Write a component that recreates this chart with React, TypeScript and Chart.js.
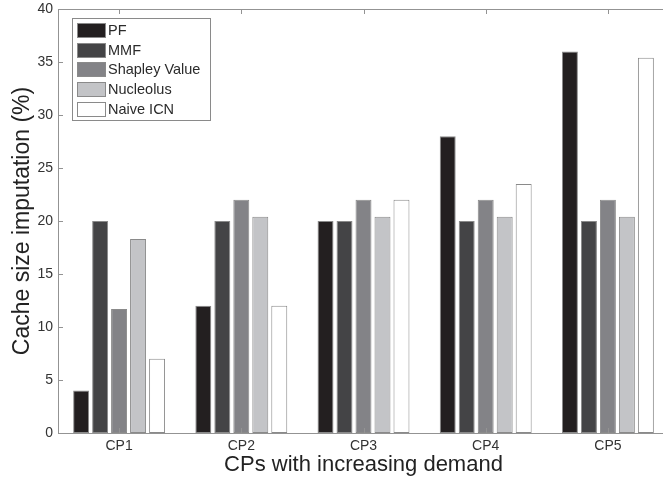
import React, { useEffect, useRef } from "react";
import { Chart, registerables } from "chart.js";

Chart.register(...registerables);

const categories = ["CP1", "CP2", "CP3", "CP4", "CP5"];
const seriesNames = ["PF", "MMF", "Shapley Value", "Nucleolus", "Naive ICN"];
const pf = [4, 12, 20, 28, 36];
const mmf = [20, 20, 20, 20, 20];
const shapley = [11.7, 22, 22, 22, 22];
const nucleolus = [18.3, 20.4, 20.4, 20.4, 20.4];
const naive = [7, 12, 22, 23.5, 35.4];
const yTicks = [0, 5, 10, 15, 20, 25, 30, 35, 40];

const fills = ["#231f20", "#444446", "#838387", "#c3c4c7", "#ffffff"];
const FONT = "'Liberation Sans', Arial, Helvetica, sans-serif";
const AXIS = "#939393";

const framePlugin = {
  id: "frame",
  afterDatasetsDraw(chart: any) {
    const { ctx, chartArea: a, scales } = chart;
    const tl = 5;
    ctx.save();
    ctx.strokeStyle = AXIS;
    ctx.lineWidth = 1;
    ctx.beginPath();
    ctx.rect(Math.round(a.left) + 0.5, Math.round(a.top) + 0.5, Math.round(a.right - a.left), Math.round(a.bottom - a.top));
    for (const v of yTicks) {
      const y = Math.round(scales.y.getPixelForValue(v)) + 0.5;
      ctx.moveTo(a.left, y);
      ctx.lineTo(a.left + tl, y);
      ctx.moveTo(a.right, y);
      ctx.lineTo(a.right - tl, y);
    }
    categories.forEach((_, i) => {
      const x = Math.round(scales.x.getPixelForValue(i)) + 0.5;
      ctx.moveTo(x, a.bottom);
      ctx.lineTo(x, a.bottom - tl);
      ctx.moveTo(x, a.top);
      ctx.lineTo(x, a.top + tl);
    });
    ctx.stroke();

    // legend box
    const lx = 72, ly = 18, lw = 138, lh = 102;
    ctx.fillStyle = "#ffffff";
    ctx.fillRect(lx, ly, lw, lh);
    ctx.strokeStyle = "#8a8a8a";
    ctx.strokeRect(lx + 0.5, ly + 0.5, lw, lh);
    ctx.font = `14.5px ${FONT}`;
    ctx.textBaseline = "middle";
    ctx.textAlign = "left";
    seriesNames.forEach((name, i) => {
      const cy = 30 + i * 19.7;
      ctx.fillStyle = fills[i];
      ctx.fillRect(77, Math.round(cy - 7), 28, 14);
      ctx.strokeStyle = "#8a8a8a";
      ctx.strokeRect(77.5, Math.round(cy - 7) + 0.5, 28, 14);
      ctx.fillStyle = "#2b2b2b";
      ctx.fillText(name, 108, cy + 1);
    });
    ctx.restore();
  },
};

export default function App() {
  const ref = useRef<HTMLCanvasElement>(null);
  useEffect(() => {
    if (!ref.current) return;
    const values = [pf, mmf, shapley, nucleolus, naive];
    const chart = new Chart(ref.current, {
      type: "bar",
      data: {
        labels: categories,
        datasets: seriesNames.map((n, i) => ({
          label: n,
          data: values[i],
          backgroundColor: fills[i],
          borderColor: "#8a8a8a",
          borderWidth: 1,
          borderSkipped: false,
          categoryPercentage: 0.777,
          barPercentage: 0.84,
        })),
      },
      options: {
        responsive: false,
        animation: false,
        devicePixelRatio: 1,
        layout: { padding: { top: 9, right: 1, left: 0, bottom: 0 } },
        plugins: { legend: { display: false }, tooltip: { enabled: false } },
        scales: {
          x: {
            grid: { display: false, drawTicks: false },
            border: { display: false },
            ticks: { color: "#333", font: { family: FONT, size: 14 }, padding: 5 },
            title: {
              display: true,
              text: "CPs with increasing demand",
              color: "#222",
              font: { family: FONT, size: 22 },
              padding: { top: 0, bottom: 4 },
            },
            afterFit: (s: any) => { s.height = 49; s.paddingLeft = 0; s.paddingRight = 0; },
          },
          y: {
            min: 0,
            max: 40,
            grid: { display: false, drawTicks: false },
            border: { display: false },
            ticks: { stepSize: 5, color: "#333", font: { family: FONT, size: 14 }, padding: 5 },
            title: {
              display: true,
              text: "Cache size imputation (%)",
              color: "#222",
              font: { family: FONT, size: 23 },
              padding: { top: 9, bottom: 0 },
            },
            afterFit: (s: any) => { s.width = 58; s.paddingTop = 0; s.paddingBottom = 0; },
          },
        },
      },
      plugins: [framePlugin],
    });
    return () => chart.destroy();
  }, []);
  return (
    <div style={{ position: "absolute", left: 0, top: 0, width: 663, height: 482, overflow: "hidden", background: "#fff" }}>
      <canvas ref={ref} width={670} height={482} style={{ display: "block" }} />
    </div>
  );
}
